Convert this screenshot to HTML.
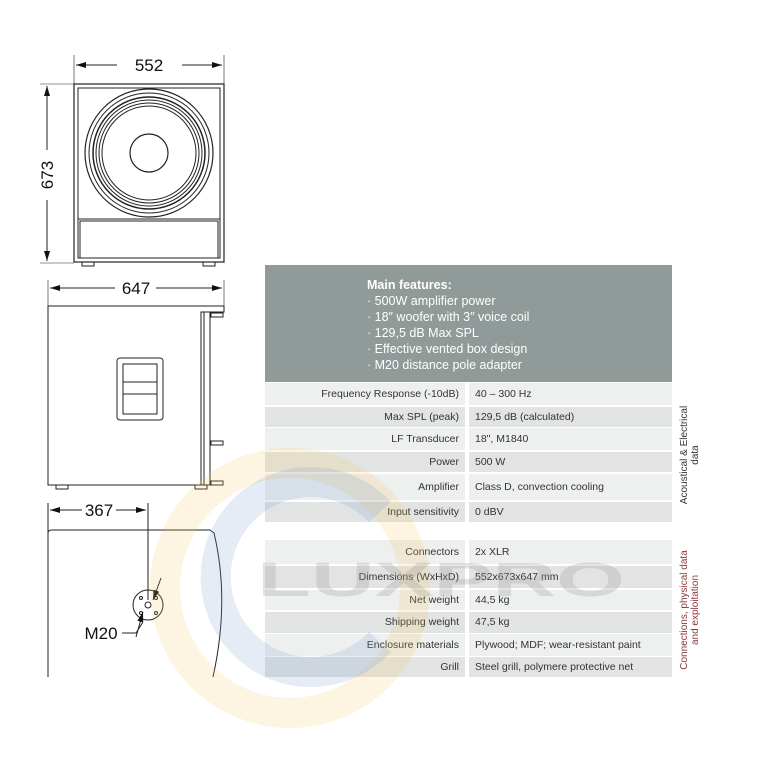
<!DOCTYPE html>
<html><head><meta charset="utf-8"><style>
body{margin:0;background:#fff;width:770px;height:770px;overflow:hidden;position:relative;font-family:"Liberation Sans",sans-serif}
svg{position:absolute;left:0;top:0}
svg text{font-family:"Liberation Sans",sans-serif}
.t{position:absolute;font-size:10.5px;color:#333;white-space:nowrap}
.row{position:absolute;left:265px;width:407px}
.row .l{position:absolute;left:0;width:200px;height:100%;text-align:right;line-height:inherit}
.row .l span{padding-right:6px}
.row .v{position:absolute;left:204px;right:0;height:100%;padding-left:6px}
.a{background:#eef0ef}.b{background:#e2e4e3}
</style></head><body>
<div style="position:absolute;left:265px;top:265px;width:407px;height:117px;background:#8f9a99"></div>
<div class="t" style="left:367px;top:277px;color:#fff;font-size:12.5px;line-height:16px">
<b>Main features:</b><br>· 500W amplifier power<br>· 18″ woofer with 3″ voice coil<br>· 129,5 dB Max SPL<br>· Effective vented box design<br>· M20 distance pole adapter</div>
<div id="tbl"></div>
<script>
var r1=[[383,405,"Frequency Response (-10dB)","40 – 300 Hz"],[407,427,"Max SPL (peak)","129,5 dB (calculated)"],[428,450,"LF Transducer","18\", M1840"],[452,472,"Power","500 W"],[474,500,"Amplifier","Class D, convection cooling"],[502,522,"Input sensitivity","0 dBV"],
[540,564,"Connectors","2x XLR"],[566,588,"Dimensions (WxHxD)","552x673x647 mm"],[590,610,"Net weight","44,5 kg"],[612,633,"Shipping weight","47,5 kg"],[634,656,"Enclosure materials","Plywood; MDF; wear-resistant paint"],[657,677,"Grill","Steel grill, polymere protective net"]];
var h="";r1.forEach(function(r,i){var hh=r[1]-r[0];var c=(i%2==0)?"a":"b";
h+='<div class="row" style="top:'+r[0]+'px;height:'+hh+'px;line-height:'+hh+'px;font-size:10.5px;color:#333"><div class="l '+c+'"><span>'+r[2]+'</span></div><div class="v '+c+'">'+r[3]+'</div></div>';});
document.getElementById("tbl").innerHTML=h;
</script>
<div class="t" style="left:690px;top:455px;transform:translate(-50%,-50%) rotate(-90deg);text-align:center;line-height:11px;font-size:10px">Acoustical &amp; Electrical<br>data</div>
<div class="t" style="left:690px;top:610px;transform:translate(-50%,-50%) rotate(-90deg);text-align:center;line-height:11px;font-size:10px;color:#8b3a3a">Connections, physical data<br>and exploitation</div>
<svg width="770" height="770" viewBox="0 0 770 770">
<defs><marker id="ar" markerWidth="10" markerHeight="6" refX="10" refY="3" orient="auto"><path d="M0,0L10,3L0,6z" fill="#111"/></marker></defs>
<g stroke="#222" fill="none" stroke-width="1">
<line x1="74" y1="55" x2="74" y2="84" stroke-width=".6"/><line x1="224" y1="55" x2="224" y2="84" stroke-width=".6"/>
<line x1="117" y1="65" x2="76" y2="65" marker-end="url(#ar)"/><line x1="182" y1="65" x2="222" y2="65" marker-end="url(#ar)"/>
<line x1="40" y1="84" x2="74" y2="84" stroke-width=".6"/><line x1="40" y1="263" x2="74" y2="263" stroke-width=".6"/>
<line x1="47" y1="150" x2="47" y2="86" marker-end="url(#ar)"/><line x1="47" y1="200" x2="47" y2="261" marker-end="url(#ar)"/>
<rect x="74" y="84" width="150" height="178" stroke-width="1.2"/>
<rect x="78" y="88" width="142" height="170"/>
<circle cx="149" cy="153" r="64" stroke-width="1.2"/><circle cx="149" cy="153" r="60"/>
<circle cx="149" cy="153" r="56" stroke-width="1.5"/><circle cx="149" cy="153" r="53"/><circle cx="149" cy="153" r="50"/><circle cx="149" cy="153" r="47"/>
<circle cx="149" cy="153" r="19" stroke-width="1.2"/>
<rect x="80" y="221" width="138" height="37"/><line x1="78" y1="219" x2="220" y2="219"/>
<rect x="82" y="262" width="12" height="4"/><rect x="203" y="262" width="12" height="4"/>
<line x1="48" y1="280" x2="48" y2="306" stroke-width=".6"/><line x1="224" y1="280" x2="224" y2="306" stroke-width=".6"/>
<line x1="115" y1="288" x2="50" y2="288" marker-end="url(#ar)"/><line x1="156" y1="288" x2="222" y2="288" marker-end="url(#ar)"/>
<path d="M48,306H224V312H210V485H48Z" stroke-width="1"/>
<rect x="201" y="312" width="9" height="173"/><line x1="204" y1="312" x2="204" y2="485"/>
<rect x="211" y="313" width="12" height="4"/><rect x="211" y="441" width="12" height="4"/><rect x="211" y="481" width="12" height="4"/>
<rect x="117" y="358" width="46" height="62" rx="3"/><rect x="123" y="364" width="34" height="50"/>
<line x1="123" y1="382" x2="157" y2="382"/><line x1="123" y1="394" x2="157" y2="394"/>
<rect x="56" y="485" width="12" height="4"/><rect x="195" y="485" width="12" height="4"/>
<line x1="48" y1="503" x2="48" y2="677"/><line x1="148" y1="503" x2="148" y2="600"/>
<line x1="82" y1="510" x2="50" y2="510" marker-end="url(#ar)"/><line x1="116" y1="510" x2="146" y2="510" marker-end="url(#ar)"/>
<path d="M48,533Q48,530 52,530H210L214,533Q230,600 213,677" />
<circle cx="148" cy="605" r="15"/><circle cx="148" cy="605" r="3"/>
<circle cx="141" cy="598" r="1.5"/><circle cx="156" cy="598" r="1.5"/><circle cx="141" cy="613" r="1.5"/><circle cx="156" cy="613" r="1.5"/>
<line x1="161" y1="578" x2="153" y2="600" marker-end="url(#ar)"/>
<path d="M122,633H136L143,622" /><line x1="136" y1="637" x2="143" y2="612" marker-end="url(#ar)"/>
</g>
<g font-size="17" fill="#111" text-anchor="middle">
<text x="149" y="71">552</text><text x="136" y="294">647</text><text x="99" y="516">367</text>
<text x="53" y="175" transform="rotate(-90 53 175)">673</text>
<text x="101" y="639">M20</text>
</g>
<circle cx="290" cy="588" r="125" fill="none" stroke="#f2c45a" stroke-opacity=".18" stroke-width="30"/>
<path d="M380,512A95,95 0 1 0 380,642" fill="none" stroke="#7f9fd0" stroke-opacity=".2" stroke-width="30"/>
<text x="257" y="596" textLength="368" lengthAdjust="spacingAndGlyphs" font-weight="bold" font-size="48" fill="#999" fill-opacity=".28">LUXPRO</text>
</svg>
</body></html>
